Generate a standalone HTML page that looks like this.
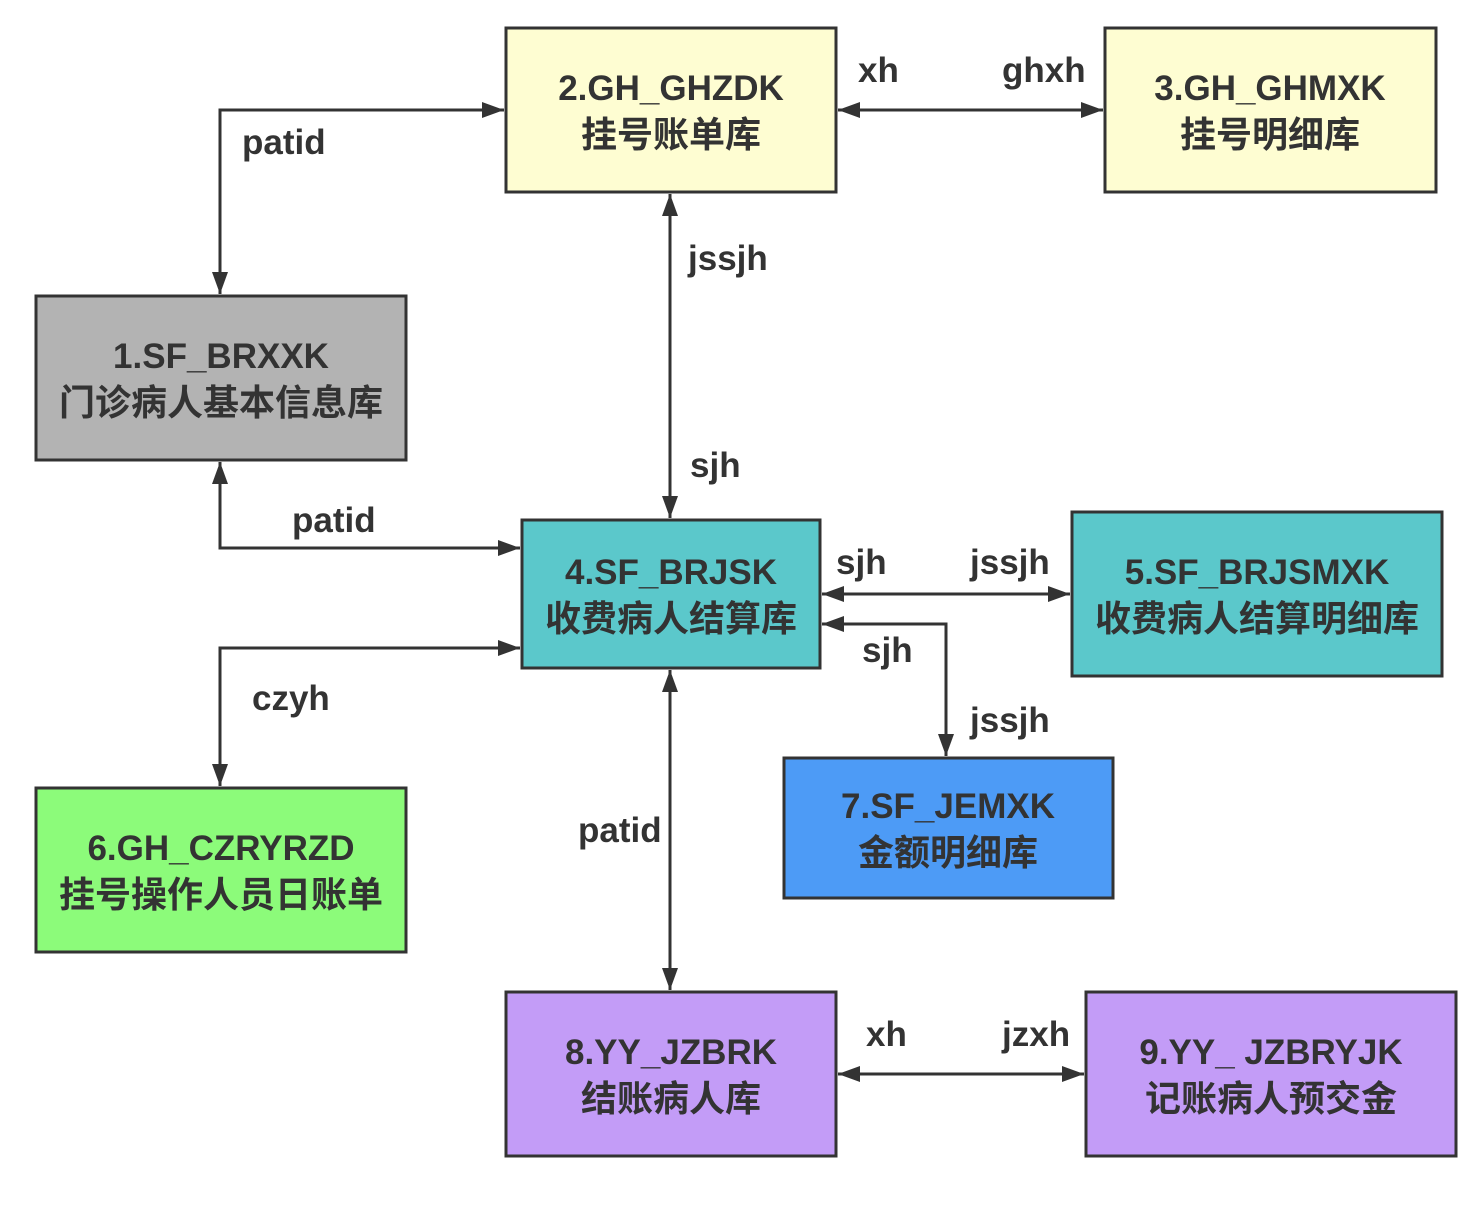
<!DOCTYPE html>
<html><head><meta charset="utf-8"><style>body{margin:0;background:#fff}</style></head>
<body>
<svg width="1478" height="1200" xmlns="http://www.w3.org/2000/svg" font-family="'Liberation Sans','Noto Sans CJK SC',sans-serif">
<defs>
<marker id="b" markerWidth="22" markerHeight="16" refX="22" refY="8" orient="auto-start-reverse" markerUnits="userSpaceOnUse"><path d="M0,0 L22,8 L0,16 z" fill="#333"/></marker></defs>
<g stroke="#333" stroke-width="3" fill="none">
<rect x="506" y="28" width="330" height="164" fill="#FEFDD2"/>
<rect x="1105" y="28" width="331" height="164" fill="#FEFDD2"/>
<rect x="36" y="296" width="370" height="164" fill="#B3B3B3"/>
<rect x="522" y="520" width="298" height="148" fill="#5BC8CB"/>
<rect x="1072" y="512" width="370" height="164" fill="#5BC8CB"/>
<rect x="784" y="758" width="329" height="140" fill="#4D9BF6"/>
<rect x="36" y="788" width="370" height="164" fill="#8CFB7A"/>
<rect x="506" y="992" width="330" height="164" fill="#C39CF7"/>
<rect x="1086" y="992" width="370" height="164" fill="#C39CF7"/>
</g>
<g stroke="#333" stroke-width="3" fill="none" marker-start="url(#b)" marker-end="url(#b)">
<polyline points="220,294 220,110 504,110"/>
<line x1="838" y1="110" x2="1103" y2="110"/>
<line x1="670" y1="194" x2="670" y2="518"/>
<polyline points="220,462 220,548 520,548"/>
<line x1="822" y1="594" x2="1070" y2="594"/>
<polyline points="822,624 946,624 946,756"/>
<polyline points="520,648 220,648 220,786"/>
<line x1="670" y1="670" x2="670" y2="990"/>
<line x1="838" y1="1074" x2="1084" y2="1074"/>
</g>
<g fill="#333" font-size="35" font-weight="bold" text-anchor="middle">
<text x="671" y="100">2.GH_GHZDK</text>
<text x="1270" y="100">3.GH_GHMXK</text>
<text x="221" y="368">1.SF_BRXXK</text>
<text x="671" y="584">4.SF_BRJSK</text>
<text x="1257" y="584">5.SF_BRJSMXK</text>
<text x="948" y="818">7.SF_JEMXK</text>
<text x="221" y="860">6.GH_CZRYRZD</text>
<text x="671" y="1064">8.YY_JZBRK</text>
<text x="1271" y="1064">9.YY_ JZBRYJK</text>
</g>
<g fill="#333" font-size="36" font-weight="bold" text-anchor="middle">
<text x="671" y="147">挂号账单库</text>
<text x="1270" y="147">挂号明细库</text>
<text x="221" y="415">门诊病人基本信息库</text>
<text x="671" y="631">收费病人结算库</text>
<text x="1257" y="631">收费病人结算明细库</text>
<text x="948" y="865">金额明细库</text>
<text x="221" y="907">挂号操作人员日账单</text>
<text x="671" y="1111">结账病人库</text>
<text x="1271" y="1111">记账病人预交金</text>
</g>
<g fill="#333" font-size="35" font-weight="bold">
<text x="242" y="154">patid</text><text x="858" y="82">xh</text><text x="1002" y="82">ghxh</text>
<text x="688" y="270">jssjh</text><text x="690" y="477">sjh</text><text x="292" y="532">patid</text>
<text x="836" y="574">sjh</text><text x="970" y="574">jssjh</text><text x="862" y="662">sjh</text>
<text x="970" y="732">jssjh</text><text x="252" y="710">czyh</text><text x="578" y="842">patid</text>
<text x="866" y="1046">xh</text><text x="1002" y="1046">jzxh</text>
</g>
</svg>
</body></html>
